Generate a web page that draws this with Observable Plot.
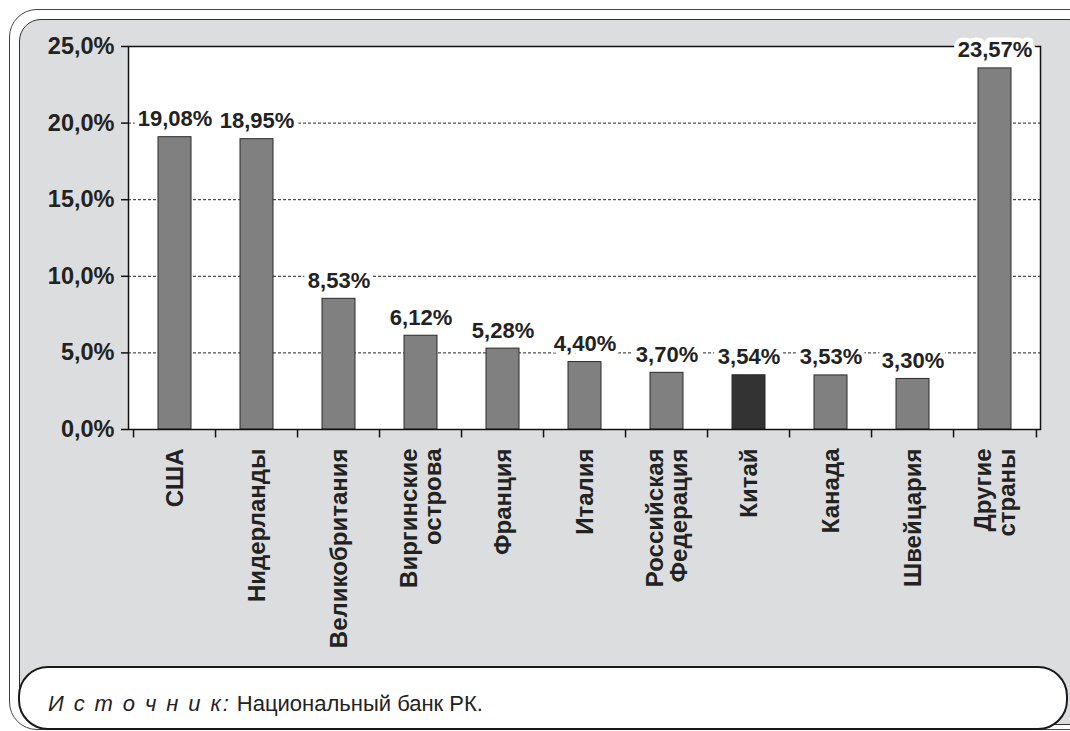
<!DOCTYPE html>
<html>
<head>
<meta charset="utf-8">
<script src="https://cdn.jsdelivr.net/npm/d3@7"></script>
<script src="https://cdn.jsdelivr.net/npm/@observablehq/plot@0.6"></script>
<style>
  html, body { margin: 0; padding: 0; background: #fff; }
  #wrap { position: relative; width: 1070px; height: 731px; overflow: hidden; font-family: "Liberation Sans", Arial, sans-serif; color: #222; }
  .outer { position: absolute; left: 9px; top: 9px; width: 1090px; height: 719px; border: 1.5px solid #444; border-radius: 28px; background: #fff; }
  .inner { position: absolute; left: 19px; top: 19px; width: 1070px; height: 704px; border: 1.5px solid #333; border-radius: 22px; background: #dcdddf; }
  .caption { position: absolute; left: 18px; top: 666px; width: 1046px; height: 60px; border: 2px solid #1a1a1a; border-radius: 30px; background: #fff; }
  .captext { position: absolute; left: 48px; top: 692px; font-size: 22px; line-height: 24px; white-space: pre; color: #222; }
  .captext i { font-style: italic; letter-spacing: 1.9px; }
  #chart { position: absolute; left: 0; top: 0; }
</style>
</head>
<body>
<div id="wrap">
  <div class="outer"></div>
  <div class="inner"></div>
  <div class="caption"></div>
  <div class="captext"><i>И с т о ч н и к:</i> Национальный банк РК.</div>
  <div id="chart"></div>
</div>
<script>
const categories = ["США", "Нидерланды", "Великобритания", "Виргинские\nострова", "Франция", "Италия", "Российская\nФедерация", "Китай", "Канада", "Швейцария", "Другие\nстраны"];
const values = [19.08, 18.95, 8.53, 6.12, 5.28, 4.40, 3.70, 3.54, 3.53, 3.30, 23.57];
const highlighted = ["Китай"];
const yTicks = [0, 5, 10, 15, 20, 25];
const gridValues = [5, 10, 15, 20];

const data = categories.map((c, i) => ({category: c, value: values[i]}));

const W = 1070, H = 660, mL = 128, mR = 30, mT = 46, mB = 231;
const step = (W - mL - mR) / categories.length;
const fmtY = d => d.toFixed(1).replace(".", ",") + "%";
const fmtV = d => d.toFixed(2).replace(".", ",") + "%";

const chart = Plot.plot({
  width: W, height: H,
  marginLeft: mL, marginRight: mR, marginTop: mT, marginBottom: mB,
  style: {background: "transparent", fontFamily: "'Liberation Sans', Arial, sans-serif", color: "#222", overflow: "visible"},
  x: {type: "band", domain: categories, paddingInner: 0.6, paddingOuter: 0.3},
  y: {domain: [0, 25]},
  marks: [
    Plot.frame({fill: "white", stroke: "none"}),
    Plot.ruleY(gridValues, {stroke: "#222", strokeWidth: 1, strokeDasharray: "3,2"}),
    Plot.barY(data, {x: "category", y: "value", fill: d => highlighted.includes(d.category) ? "#333333" : "#808080", stroke: "#2a2a2a", strokeWidth: 1}),
    Plot.frame({stroke: "#111", strokeWidth: 1.5, fill: "none"}),
    Plot.ruleX(categories, {x: d => d, y1: 0, y2: -0.55, dx: -step / 2, stroke: "#111", strokeWidth: 1.5, clip: false}),
    Plot.ruleX(categories.slice(-1), {x: d => d, y1: 0, y2: -0.55, dx: step / 2, stroke: "#111", strokeWidth: 1.5, clip: false}),
    Plot.axisY({ticks: yTicks, tickFormat: fmtY, tickSize: 7, tickPadding: 7, fontSize: 23.5, fontWeight: "bold", stroke: "#111", strokeWidth: 1.5, label: null}),
    Plot.axisX({tickSize: 0, tickRotate: -90, tickPadding: 19, fontSize: 24, fontWeight: "bold", label: null}),
    Plot.text(data, {x: "category", y: "value", text: d => fmtV(d.value), dy: -18, lineAnchor: "middle", fontSize: 22, fontWeight: "bold", fill: "#222", stroke: "white", strokeWidth: 9, strokeLinejoin: "round", paintOrder: "stroke"})
  ]
});
document.getElementById("chart").appendChild(chart);
</script>
</body>
</html>
